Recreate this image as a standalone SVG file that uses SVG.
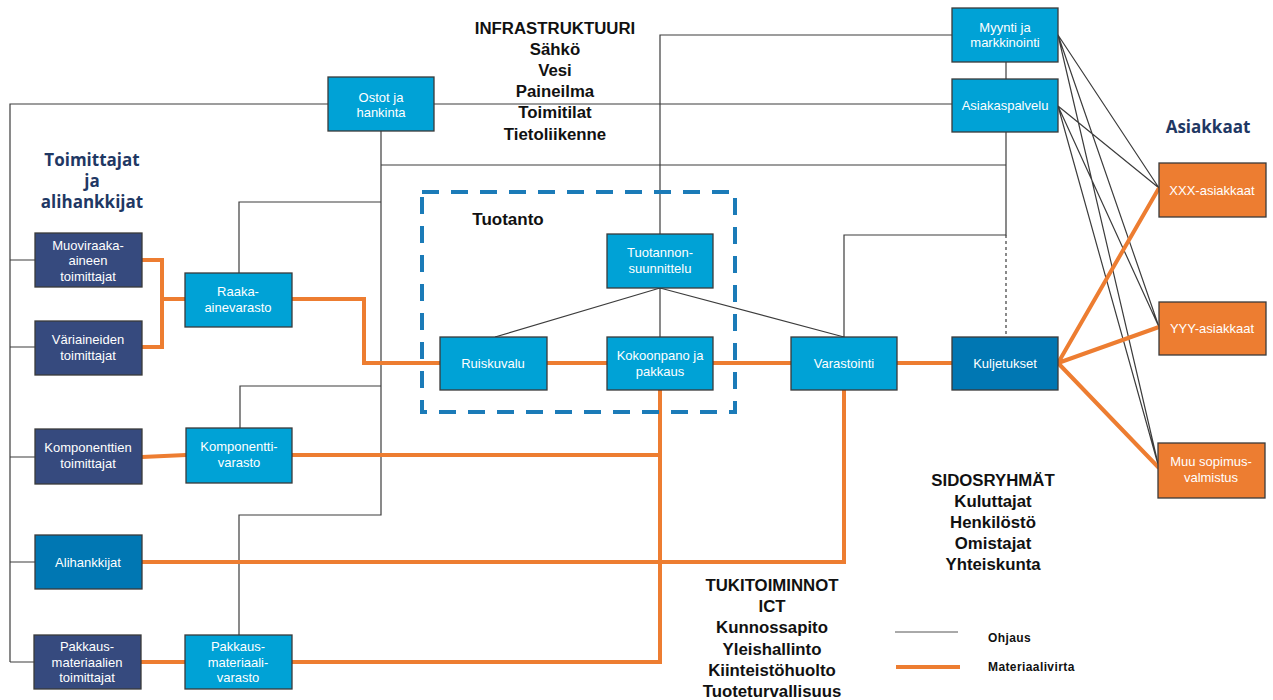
<svg xmlns="http://www.w3.org/2000/svg" width="1273" height="700" viewBox="0 0 1273 700">
<style>
.bx{stroke:#3a3a3a;stroke-width:1.3}
.lb{fill:#00A2D6}
.nv{fill:#364A7E}
.db{fill:#0077B3}
.or{fill:#ED7D31}
.nt{font-family:"Liberation Sans",Arial,sans-serif;font-size:13px;fill:#fff;text-anchor:middle}
.ctl{fill:none;stroke:#3c3c3c;stroke-width:1.2}
.mat{fill:none;stroke:#ED7D31;stroke-width:4;stroke-linejoin:miter}
.hd{font-family:"Liberation Sans",Arial,sans-serif;font-size:16.8px;font-weight:bold;fill:#111;text-anchor:middle}
.nh{font-family:"Open Sans","Liberation Sans",sans-serif;font-size:17px;font-weight:bold;fill:#1F3864;text-anchor:middle}
.lg{font-family:"Liberation Sans",Arial,sans-serif;font-size:12px;font-weight:bold;fill:#111;letter-spacing:0.4px}
</style>
<rect width="1273" height="700" fill="#fff"/>
<g id="connectors">
<path class="ctl" d="M10,662 V104 H328"/>
<path class="ctl" d="M10,260 H35 M10,347 H35 M10,457 H35 M10,562 H35 M10,662 H34"/>
<path class="ctl" d="M434,104 H952"/>
<path class="ctl" d="M381,131 V515 H239 V635"/>
<path class="ctl" d="M381,202 H239 V273"/>
<path class="ctl" d="M381,386 H240 V428"/>
<path class="ctl" d="M381,165 H1006"/>
<path class="ctl" d="M660,234 V35 H952"/>
<path class="ctl" d="M1006,62 V79"/>
<path class="ctl" d="M1006,132 V235 H844 V337"/>
<path class="ctl" d="M1006,235 V337" stroke-dasharray="3 3"/>
<path class="ctl" d="M660,288 L495,337 M660,288 V337 M660,288 L844,337"/>
<path class="ctl" stroke-width="0.9" d="M1058,35 L1159,188 M1058,35 L1159,327 M1058,35 L1159,468 M1058,106 L1159,188 M1058,106 L1159,327 M1058,106 L1159,468"/>
<path class="mat" d="M142,260 H162 V347 H142 M162,299 H185"/>
<path class="mat" d="M292,299 H364 V363 H440"/>
<path class="mat" d="M547,363 H607 M713,363 H791 M897,363 H952"/>
<path class="mat" d="M1058,363 L1159,188 M1058,363 L1159,327 M1058,363 L1159,468"/>
<path class="mat" d="M142,457 L186,455 M292,455 H660"/>
<path class="mat" d="M660,390 V662 H292"/>
<path class="mat" d="M141,662 H185"/>
<path class="mat" d="M142,562 H844 V390"/>
</g>
<g id="tuotanto-box">
<rect x="422" y="192" width="313" height="220" fill="none" stroke="#1B7BB8" stroke-width="4" stroke-dasharray="17 12"/>
<text class="hd" x="508" y="225" style="font-size:17px">Tuotanto</text>
</g>
<g id="ostot"><rect class="bx lb" x="328" y="77" width="106" height="54"/><text class="nt" x="381" y="101.5">Ostot ja</text><text class="nt" x="381" y="117">hankinta</text></g>
<g id="myynti"><rect class="bx lb" x="952" y="8" width="106" height="54"/><text class="nt" x="1005" y="31.5">Myynti ja</text><text class="nt" x="1005" y="47">markkinointi</text></g>
<g id="asiakaspalvelu"><rect class="bx lb" x="952" y="79" width="106" height="53"/><text class="nt" x="1005" y="110">Asiakaspalvelu</text></g>
<g id="xxx"><rect class="bx or" x="1159" y="163" width="107" height="54"/><text class="nt" x="1212" y="194.5">XXX-asiakkaat</text></g>
<g id="yyy"><rect class="bx or" x="1159" y="302" width="107" height="53"/><text class="nt" x="1212" y="333">YYY-asiakkaat</text></g>
<g id="muu"><rect class="bx or" x="1158" y="443" width="107" height="55"/><text class="nt" x="1211" y="466">Muu sopimus-</text><text class="nt" x="1211" y="482">valmistus</text></g>
<g id="suunnittelu"><rect class="bx lb" x="607" y="234" width="106" height="54"/><text class="nt" x="660" y="257">Tuotannon-</text><text class="nt" x="660" y="273">suunnittelu</text></g>
<g id="ruiskuvalu"><rect class="bx lb" x="440" y="337" width="107" height="53"/><text class="nt" x="493" y="368">Ruiskuvalu</text></g>
<g id="kokoonpano"><rect class="bx lb" x="607" y="337" width="106" height="53"/><text class="nt" x="660" y="360">Kokoonpano ja</text><text class="nt" x="660" y="376">pakkaus</text></g>
<g id="varastointi"><rect class="bx lb" x="791" y="337" width="106" height="53"/><text class="nt" x="844" y="368">Varastointi</text></g>
<g id="kuljetukset"><rect class="bx db" x="952" y="337" width="106" height="53"/><text class="nt" x="1005" y="368">Kuljetukset</text></g>
<g id="muoviraaka"><rect class="bx nv" x="35" y="233" width="107" height="54"/><text class="nt" x="88" y="249.5">Muoviraaka-</text><text class="nt" x="88" y="265">aineen</text><text class="nt" x="88" y="280.5">toimittajat</text></g>
<g id="variaineiden"><rect class="bx nv" x="35" y="321" width="107" height="54"/><text class="nt" x="88" y="344">Väriaineiden</text><text class="nt" x="88" y="360">toimittajat</text></g>
<g id="raaka"><rect class="bx lb" x="185" y="273" width="107" height="54"/><text class="nt" x="238" y="296">Raaka-</text><text class="nt" x="238" y="312">ainevarasto</text></g>
<g id="komponenttien"><rect class="bx nv" x="35" y="429" width="107" height="55"/><text class="nt" x="88" y="452">Komponenttien</text><text class="nt" x="88" y="468">toimittajat</text></g>
<g id="komponenttivarasto"><rect class="bx lb" x="186" y="428" width="106" height="55"/><text class="nt" x="239" y="451">Komponentti-</text><text class="nt" x="239" y="467">varasto</text></g>
<g id="alihankkijat"><rect class="bx db" x="35" y="535" width="107" height="54"/><text class="nt" x="88" y="566.5">Alihankkijat</text></g>
<g id="pakkaustoimittajat"><rect class="bx nv" x="34" y="635" width="107" height="54"/><text class="nt" x="87" y="651">Pakkaus-</text><text class="nt" x="87" y="666.5">materiaalien</text><text class="nt" x="87" y="682">toimittajat</text></g>
<g id="pakkausvarasto"><rect class="bx lb" x="185" y="635" width="107" height="54"/><text class="nt" x="238" y="651">Pakkaus-</text><text class="nt" x="238" y="666.5">materiaali-</text><text class="nt" x="238" y="682">varasto</text></g>
<g id="infrastruktuuri">
<text class="hd" x="555" y="34">INFRASTRUKTUURI</text>
<text class="hd" x="555" y="55">Sähkö</text>
<text class="hd" x="555" y="76">Vesi</text>
<text class="hd" x="555" y="97">Paineilma</text>
<text class="hd" x="555" y="118">Toimitilat</text>
<text class="hd" x="555" y="140">Tietoliikenne</text>
</g>
<g id="toimittajat-otsikko">
<text class="nh" x="92" y="166">Toimittajat</text>
<text class="nh" x="92" y="187">ja</text>
<text class="nh" x="92" y="208">alihankkijat</text>
</g>
<g id="asiakkaat-otsikko"><text class="nh" x="1208" y="133">Asiakkaat</text></g>
<g id="sidosryhmat">
<text class="hd" x="993" y="486">SIDOSRYHMÄT</text>
<text class="hd" x="993" y="507">Kuluttajat</text>
<text class="hd" x="993" y="528">Henkilöstö</text>
<text class="hd" x="993" y="549">Omistajat</text>
<text class="hd" x="993" y="570">Yhteiskunta</text>
</g>
<g id="tukitoiminnot">
<text class="hd" x="772" y="591">TUKITOIMINNOT</text>
<text class="hd" x="772" y="612">ICT</text>
<text class="hd" x="772" y="633">Kunnossapito</text>
<text class="hd" x="772" y="655">Yleishallinto</text>
<text class="hd" x="772" y="676">Kiinteistöhuolto</text>
<text class="hd" x="772" y="697">Tuoteturvallisuus</text>
</g>
<g id="legend">
<line x1="895" y1="632" x2="958" y2="632" stroke="#555" stroke-width="1"/>
<text class="lg" x="988" y="642">Ohjaus</text>
<line x1="896" y1="667" x2="960" y2="667" stroke="#ED7D31" stroke-width="4"/>
<text class="lg" x="988" y="671">Materiaalivirta</text>
</g>
</svg>
